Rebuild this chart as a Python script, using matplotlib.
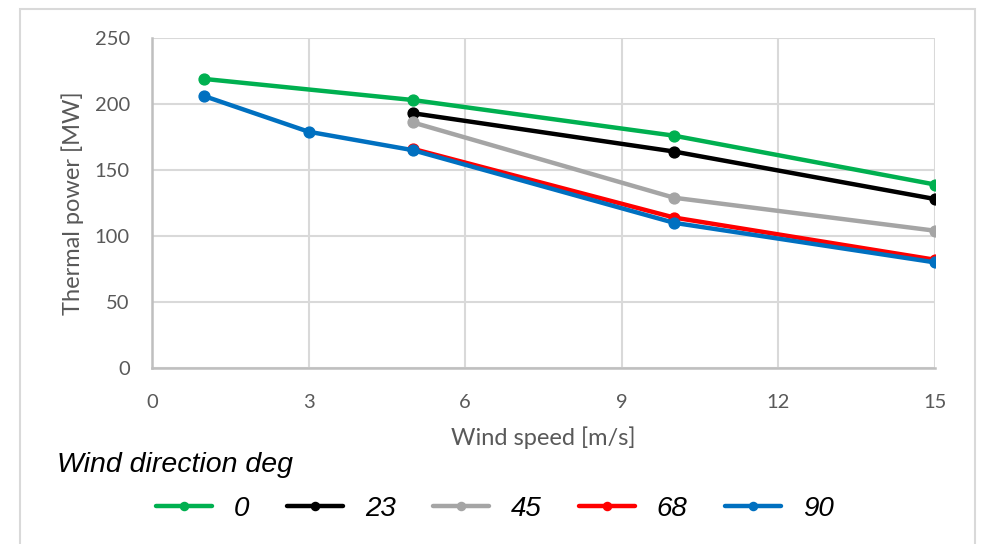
import matplotlib
matplotlib.use("Agg")
import matplotlib.pyplot as plt
from matplotlib.patches import Rectangle

# Thermal power [MW] vs wind speed [m/s] for several wind directions
wind_speed_0 = [1, 5, 10, 15]
power_0 = [219, 203, 176, 139]

wind_speed_23 = [5, 10, 15]
power_23 = [193, 164, 128]

wind_speed_45 = [5, 10, 15]
power_45 = [186, 129, 104]

wind_speed_68 = [5, 10, 15]
power_68 = [166, 114, 82]

wind_speed_90 = [1, 3, 5, 10, 15]
power_90 = [206, 179, 165, 110, 80]

series_labels = ["0", "23", "45", "68", "90"]
series_colors = ["#00b050", "#000000", "#a5a5a5", "#ff0000", "#0070c0"]

x_ticks = [0, 3, 6, 9, 12, 15]
y_ticks = [0, 50, 100, 150, 200, 250]

W, H = 982, 544
fig = plt.figure(figsize=(W / 100, H / 100), dpi=100)
fig.patch.set_facecolor("white")

# outer chart frame
fig.patches.append(Rectangle((20 / W, -0.05), 955 / W, 1 - 9 / H + 0.05,
                             transform=fig.transFigure, fill=False,
                             edgecolor="#d9d9d9", linewidth=1.5, zorder=0))

ax = fig.add_axes([152 / W, 1 - 368 / H, 783 / W, 330 / H])

xs = [wind_speed_0, wind_speed_23, wind_speed_45, wind_speed_68, wind_speed_90]
ys = [power_0, power_23, power_45, power_68, power_90]
handles = []
for x, y, lab, c in zip(xs, ys, series_labels, series_colors):
    h, = ax.plot(x, y, color=c, linewidth=3.2, marker="o", markersize=7.8,
                 solid_capstyle="round", label=lab, zorder=3)
    handles.append(h)

ax.set_xlim(0, 15)
ax.set_ylim(0, 250)
ax.set_xticks(x_ticks)
ax.set_yticks(y_ticks)
ax.grid(True, color="#d9d9d9", linewidth=1.5)
ax.set_axisbelow(True)
for side in ["top", "right"]:
    ax.spines[side].set_visible(False)
for side in ["left", "bottom"]:
    ax.spines[side].set_color("#bfbfbf")
    ax.spines[side].set_linewidth(1.8)

tick_font = "Lato"
ax.tick_params(length=0, labelcolor="#595959", labelsize=14.5)
ax.tick_params(axis="y", pad=16)
ax.tick_params(axis="x", pad=19)
for t in ax.get_xticklabels() + ax.get_yticklabels():
    t.set_fontfamily(tick_font)

ax.set_xlabel("Wind speed [m/s]", fontsize=17, color="#595959",
              fontfamily=tick_font, va="center")
ax.set_ylabel("Thermal power [MW]", fontsize=17, color="#595959",
              fontfamily=tick_font, va="center")
ax.xaxis.set_label_coords(0.5, (368 - 438) / 330)
ax.yaxis.set_label_coords((73 - 152) / 783, 0.5)

fig.text(57 / W, 1 - 465 / H, "Wind direction deg", fontsize=20.5,
         style="italic", fontfamily="Liberation Sans", va="center", ha="left")

fig.legend(handles=handles, labels=series_labels, loc="center",
           bbox_to_anchor=(495 / W, 1 - 509 / H), ncol=5, frameon=False,
           prop={"family": "Liberation Sans", "style": "italic", "size": 20},
           handlelength=2.0, handletextpad=0.8, columnspacing=1.35,
           markerscale=0.75, borderpad=0, borderaxespad=0)

fig.savefig("out.png", dpi=100)
